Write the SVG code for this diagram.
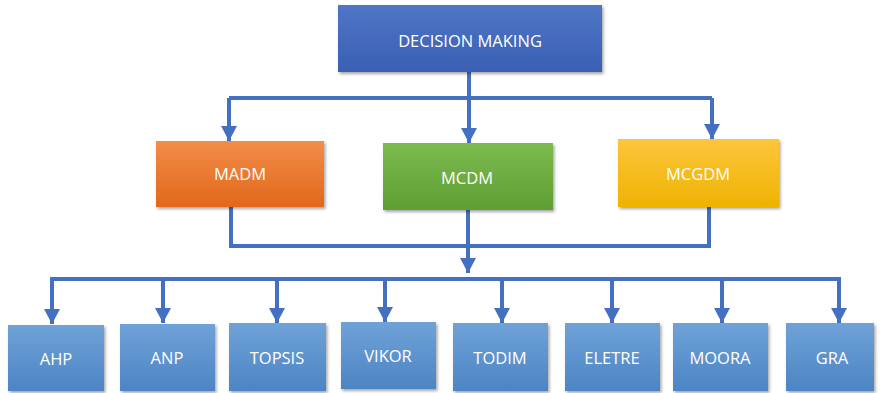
<svg xmlns="http://www.w3.org/2000/svg" width="880" height="393" viewBox="0 0 880 393">
  <defs>
    <linearGradient id="gBlueDark" x1="0" y1="0" x2="0" y2="1">
      <stop offset="0" stop-color="#4f75c6"/>
      <stop offset="1" stop-color="#3a60b4"/>
    </linearGradient>
    <linearGradient id="gOrange" x1="0" y1="0" x2="0" y2="1">
      <stop offset="0" stop-color="#f28d48"/>
      <stop offset="1" stop-color="#e2681c"/>
    </linearGradient>
    <linearGradient id="gGreen" x1="0" y1="0" x2="0" y2="1">
      <stop offset="0" stop-color="#7cbb4f"/>
      <stop offset="1" stop-color="#5e9e33"/>
    </linearGradient>
    <linearGradient id="gYellow" x1="0" y1="0" x2="0" y2="1">
      <stop offset="0" stop-color="#fdc53c"/>
      <stop offset="1" stop-color="#eeb300"/>
    </linearGradient>
    <linearGradient id="gBlue" x1="0" y1="0" x2="0" y2="1">
      <stop offset="0" stop-color="#6fa2d8"/>
      <stop offset="1" stop-color="#4d84c4"/>
    </linearGradient>
    <filter id="shadow" x="-10%" y="-10%" width="125%" height="130%">
      <feDropShadow dx="1.5" dy="2" stdDeviation="1.6" flood-color="#000" flood-opacity="0.35"/>
    </filter>
    <marker id="arrow" markerUnits="userSpaceOnUse" markerWidth="17" markerHeight="16" refX="15" refY="8" orient="auto">
      <polygon points="0,0 15,8 0,16" fill="#4470c2"/>
    </marker>
  </defs>
  <style>
    .box { filter: url(#shadow); }
    .lbl { font-family: "Open Sans", "Liberation Sans", sans-serif; font-size: 16.5px; fill: #ffffff; text-anchor: middle; dominant-baseline: central; }
    .wire { fill: none; stroke: #4470c2; stroke-width: 4; }
  </style>

  <!-- connectors -->
  <g id="connectors">
    <!-- root to second level -->
    <path class="wire" d="M469,72 V98"/>
    <path class="wire" d="M229,98 H712"/>
    <path class="wire" d="M229,98 V141" marker-end="url(#arrow)"/>
    <path class="wire" d="M469,98 V143" marker-end="url(#arrow)"/>
    <path class="wire" d="M712,98 V139" marker-end="url(#arrow)"/>
    <!-- second level merge -->
    <path class="wire" d="M231,207 V246 H709 V207"/>
    <path class="wire" d="M468,210 V273" marker-end="url(#arrow)"/>
    <!-- method bus -->
    <path class="wire" d="M50,279 H841"/>
    <path class="wire" d="M52,279 V324" marker-end="url(#arrow)"/>
    <path class="wire" d="M163,279 V323" marker-end="url(#arrow)"/>
    <path class="wire" d="M277,279 V323" marker-end="url(#arrow)"/>
    <path class="wire" d="M385,279 V322" marker-end="url(#arrow)"/>
    <path class="wire" d="M502,279 V323" marker-end="url(#arrow)"/>
    <path class="wire" d="M612,279 V323" marker-end="url(#arrow)"/>
    <path class="wire" d="M722,279 V323" marker-end="url(#arrow)"/>
    <path class="wire" d="M839,279 V323" marker-end="url(#arrow)"/>
  </g>

  <g id="decision-making">
    <rect class="box" x="338" y="5" width="264" height="67" fill="url(#gBlueDark)"/>
    <text class="lbl" x="470" y="40">DECISION MAKING</text>
  </g>

  <g id="madm">
    <rect class="box" x="156" y="141" width="168" height="66" fill="url(#gOrange)"/>
    <text class="lbl" x="240" y="173">MADM</text>
  </g>
  <g id="mcdm">
    <rect class="box" x="383" y="143" width="170" height="67" fill="url(#gGreen)"/>
    <text class="lbl" x="467" y="177">MCDM</text>
  </g>
  <g id="mcgdm">
    <rect class="box" x="618" y="139" width="161" height="68" fill="url(#gYellow)"/>
    <text class="lbl" x="698" y="173">MCGDM</text>
  </g>

  <g id="ahp">
    <rect class="box" x="8" y="325" width="96" height="66" fill="url(#gBlue)"/>
    <text class="lbl" x="56" y="358">AHP</text>
  </g>
  <g id="anp">
    <rect class="box" x="120" y="324" width="95" height="67" fill="url(#gBlue)"/>
    <text class="lbl" x="167" y="357">ANP</text>
  </g>
  <g id="topsis">
    <rect class="box" x="229" y="323" width="97" height="68" fill="url(#gBlue)"/>
    <text class="lbl" x="277" y="357">TOPSIS</text>
  </g>
  <g id="vikor">
    <rect class="box" x="341" y="322" width="95" height="67" fill="url(#gBlue)"/>
    <text class="lbl" x="388" y="355">VIKOR</text>
  </g>
  <g id="todim">
    <rect class="box" x="453" y="323" width="95" height="68" fill="url(#gBlue)"/>
    <text class="lbl" x="500" y="357">TODIM</text>
  </g>
  <g id="eletre">
    <rect class="box" x="565" y="323" width="95" height="68" fill="url(#gBlue)"/>
    <text class="lbl" x="612" y="357">ELETRE</text>
  </g>
  <g id="moora">
    <rect class="box" x="673" y="323" width="95" height="68" fill="url(#gBlue)"/>
    <text class="lbl" x="720" y="357">MOORA</text>
  </g>
  <g id="gra">
    <rect class="box" x="786" y="323" width="88" height="68" fill="url(#gBlue)"/>
    <text class="lbl" x="832" y="357">GRA</text>
  </g>
</svg>
